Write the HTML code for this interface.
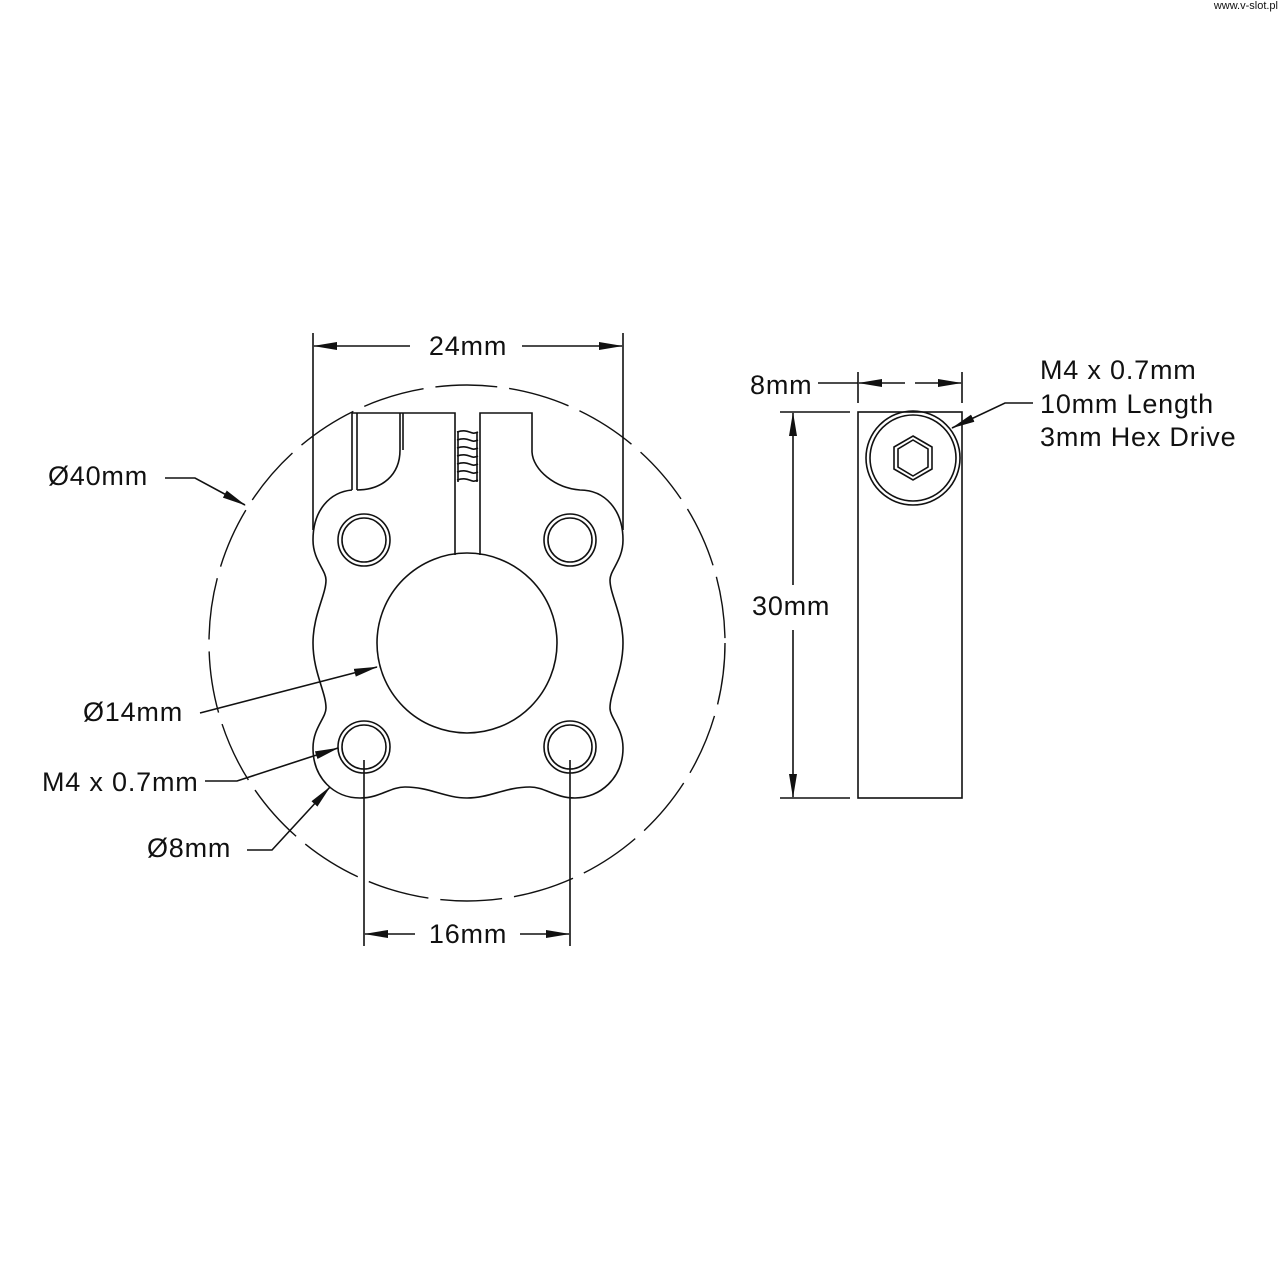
<!DOCTYPE html>
<html><head><meta charset="utf-8"><style>
html,body{margin:0;padding:0;background:#fff;}
svg{display:block;}
text{font-family:"Liberation Sans","DejaVu Sans",sans-serif;font-size:27px;letter-spacing:0.8px;fill:#111;}
</style></head><body>
<svg width="1280" height="1280" viewBox="0 0 1280 1280" xmlns="http://www.w3.org/2000/svg">
<defs>
<marker id="a" markerWidth="24" markerHeight="10" refX="23" refY="5" orient="auto" markerUnits="userSpaceOnUse">
<path d="M0,1 L24,5 L0,9 Z" fill="#111"/></marker>
</defs>
<text x="1278" y="9" text-anchor="end" style="font-size:11px;letter-spacing:0">www.v-slot.pl</text>
<g fill="none" stroke="#111" stroke-width="1.6">
<circle cx="467" cy="643" r="258" stroke-dasharray="62 12" stroke-width="1.4"/>
<path d="M352,490 C330,492 313,510 313,540 C313,560 326,570 326,580 C326,595 313,615 313,643 C313,672 326,692 326,708 C326,718 313,728 313,748 C313,778 334,798 360,798 C380,798 390,787 405,787 C430,787 445,798 467,798 C490,798 505,787 530,787 C545,787 555,798 575,798 C600,798 623,778 623,748 C623,728 610,718 610,708 C610,692 623,672 623,643 C623,615 610,595 610,580 C610,570 623,560 623,540 C623,510 605,490 580,490 C555,488 533,470 532,452 L532,413 L480,413 L480,555"/>
<path d="M455,555 L455,413 L352,413 L352,490"/>
<path d="M357,413 L357,490"/>
<path d="M400,413 L400,450 C400,475 382,490 357,490"/>
<path d="M403,413 L403,450"/>
<path d="M457,432 C470,428 470,436 478,432 M457,440 C470,436 470,444 478,440 M457,448 C470,444 470,452 478,448 M457,456 C470,452 470,460 478,456 M457,464 C470,460 470,468 478,464 M457,472 C470,468 470,476 478,472 M457,480 C470,476 470,484 478,480"/>
<path d="M458,432 L458,482 M477,432 L477,482"/>
<circle cx="467" cy="643" r="90"/>
<circle cx="364" cy="540" r="26"/><circle cx="364" cy="540" r="22"/>
<circle cx="570" cy="540" r="26"/><circle cx="570" cy="540" r="22"/>
<circle cx="364" cy="747" r="26"/><circle cx="364" cy="747" r="22"/>
<circle cx="570" cy="747" r="26"/><circle cx="570" cy="747" r="22"/>
<path d="M313,333 L313,530 M623,333 L623,530"/>
<path d="M410,346 L314,346" marker-end="url(#a)"/>
<path d="M522,346 L622,346" marker-end="url(#a)"/>
<path d="M364,760 L364,946 M570,760 L570,946"/>
<path d="M415,934 L365,934" marker-end="url(#a)"/>
<path d="M520,934 L569,934" marker-end="url(#a)"/>
<path d="M165,478 L195,478 L245,505" marker-end="url(#a)"/>
<path d="M200,713 L377,667" marker-end="url(#a)"/>
<path d="M205,781 L237,781 L338,748" marker-end="url(#a)"/>
<path d="M247,850 L272,850 L330,787" marker-end="url(#a)"/>
<rect x="858" y="412" width="104" height="386"/>
<circle cx="913" cy="458" r="47"/><circle cx="913" cy="458" r="43"/>
<polygon points="913,436 932,447 932,469 913,480 894,469 894,447"/>
<polygon points="913,440 928,449 928,467 913,476 898,467 898,449"/>
<path d="M858,372 L858,403 M962,372 L962,403"/>
<path d="M818,383 L858,383"/>
<path d="M905,383 L859,383" marker-end="url(#a)"/>
<path d="M915,383 L961,383" marker-end="url(#a)"/>
<path d="M780,412 L850,412 M780,798 L850,798"/>
<path d="M793,585 L793,413" marker-end="url(#a)"/>
<path d="M793,630 L793,797" marker-end="url(#a)"/>
<path d="M1033,403 L1005,403 L952,428" marker-end="url(#a)"/>
</g>
<text x="468" y="355" text-anchor="middle">24mm</text>
<text x="468" y="943" text-anchor="middle">16mm</text>
<text x="48" y="485">Ø40mm</text>
<text x="83" y="721">Ø14mm</text>
<text x="42" y="791">M4 x 0.7mm</text>
<text x="147" y="857">Ø8mm</text>
<text x="750" y="394">8mm</text>
<text x="752" y="615">30mm</text>
<text x="1040" y="379">M4 x 0.7mm</text>
<text x="1040" y="413">10mm Length</text>
<text x="1040" y="446">3mm Hex Drive</text>
</svg>
</body></html>
